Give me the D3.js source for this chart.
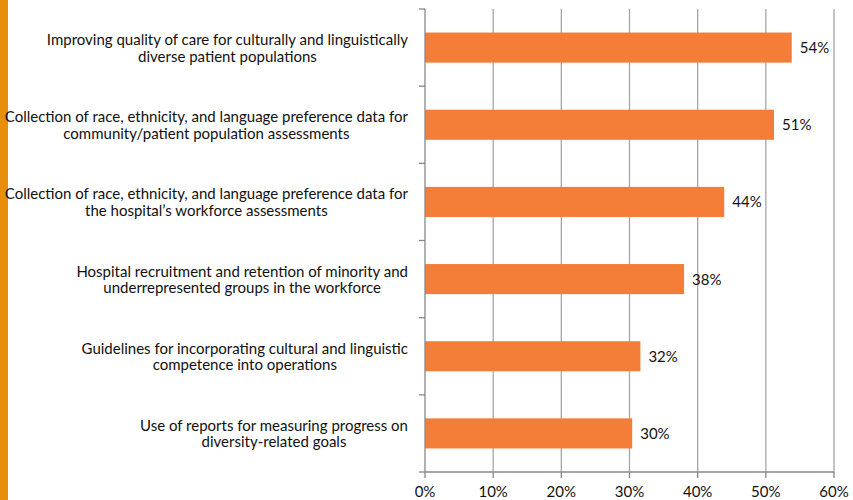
<!DOCTYPE html>
<html><head><meta charset="utf-8">
<script src="https://cdn.jsdelivr.net/npm/d3@7"></script>
<style>
html,body{margin:0;padding:0;background:#fff;}
svg{display:block;font-family:Lato, "Open Sans", sans-serif;}
</style></head>
<body>
<svg id="chart" width="853" height="500"></svg>
<script>
const categories = [
  ["Improving quality of care for culturally and linguistically", "diverse patient populations"],
  ["Collection of race, ethnicity, and language preference data for", "community/patient population assessments"],
  ["Collection of race, ethnicity, and language preference data for", "the hospital\u2019s workforce assessments"],
  ["Hospital recruitment and retention of minority and", "underrepresented groups in the workforce"],
  ["Guidelines for incorporating cultural and linguistic", "competence into operations"],
  ["Use of reports for measuring progress on", "diversity-related goals"]
];
const values = [53.8, 51.2, 43.9, 38.0, 31.6, 30.4];
const valueLabels = ["54%", "51%", "44%", "38%", "32%", "30%"];
const xTicks = [0, 10, 20, 30, 40, 50, 60];
const tickLabels = ["0%", "10%", "20%", "30%", "40%", "50%", "60%"];

const svg = d3.select("#chart");
const pLeft = 425, pRight = 834, pTop = 9, pBottom = 472;
const x = d3.scaleLinear().domain([0, 60]).range([pLeft, pRight]);
const y = d3.scaleBand().domain(d3.range(categories.length)).range([pTop, pBottom]).paddingInner(0.61).paddingOuter(0.305);
const band = d3.scaleBand().domain(d3.range(categories.length)).range([pTop, pBottom]);

// left decorative strip
svg.append("rect").attr("x", 0).attr("y", 0).attr("width", 8).attr("height", 500).attr("fill", "#E98E0B");

// gridlines
svg.append("g").selectAll("line").data(xTicks.slice(1)).join("line")
  .attr("x1", d => x(d)).attr("x2", d => x(d))
  .attr("y1", pTop).attr("y2", pBottom)
  .attr("stroke", "#A6A6A6").attr("stroke-width", 1.3);

// bars
svg.append("g").selectAll("rect").data(values).join("rect")
  .attr("x", x(0)).attr("y", (d, i) => y(i))
  .attr("width", d => x(d) - x(0)).attr("height", y.bandwidth())
  .attr("fill", "#F47D37");

// value labels
svg.append("g").selectAll("text").data(values).join("text")
  .attr("x", d => x(d) + 8).attr("y", (d, i) => y(i) + y.bandwidth() / 2 + 5.5)
  .attr("font-size", 15).attr("fill", "#111")
  .text((d, i) => valueLabels[i]);

// left axis
svg.append("line").attr("x1", pLeft).attr("x2", pLeft).attr("y1", pTop).attr("y2", pBottom)
  .attr("stroke", "#888").attr("stroke-width", 1.3);
svg.append("g").selectAll("line").data(d3.range(categories.length + 1)).join("line")
  .attr("x1", pLeft - 6).attr("x2", pLeft)
  .attr("y1", d => d < categories.length ? band(d) : pBottom)
  .attr("y2", d => d < categories.length ? band(d) : pBottom)
  .attr("stroke", "#888").attr("stroke-width", 1.3);

// bottom axis
svg.append("line").attr("x1", pLeft).attr("x2", pRight).attr("y1", pBottom).attr("y2", pBottom)
  .attr("stroke", "#888").attr("stroke-width", 1.3);
svg.append("g").selectAll("line").data(xTicks).join("line")
  .attr("x1", d => x(d)).attr("x2", d => x(d))
  .attr("y1", pBottom).attr("y2", pBottom + 6)
  .attr("stroke", "#888").attr("stroke-width", 1.3);
svg.append("g").selectAll("text").data(xTicks).join("text")
  .attr("x", d => x(d)).attr("y", 496.5)
  .attr("text-anchor", "middle").attr("font-size", 15).attr("fill", "#111")
  .text((d, i) => tickLabels[i]);

// category labels: centered block, right-aligned to 408
const lab = svg.append("g");
categories.forEach((lines, i) => {
  const cy = band(i) + band.bandwidth() / 2;
  const g = lab.append("g");
  const t = lines.map((s, k) => g.append("text")
    .attr("y", cy - 2.5 + k * 16.5)
    .attr("font-size", 15).attr("fill", "#111").text(s));
  const widths = t.map(n => n.node().getComputedTextLength());
  const maxW = d3.max(widths);
  const cx = 408 - maxW / 2;
  t.forEach(n => n.attr("x", cx).attr("text-anchor", "middle"));
});
</script>
</body></html>
